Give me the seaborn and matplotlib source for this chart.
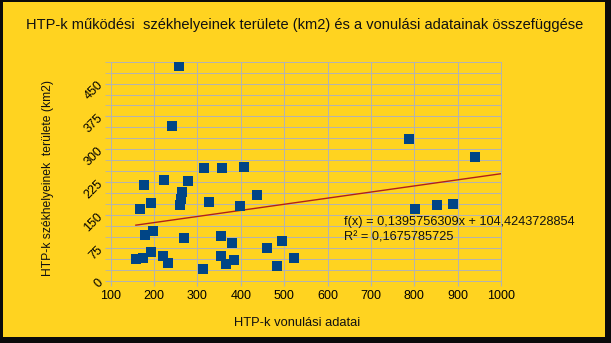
import matplotlib
matplotlib.use("Agg")
import matplotlib.pyplot as plt
from matplotlib.patches import Rectangle
import seaborn as sns
import pandas as pd

# Data
vonulas = [257, 242, 315, 357, 407, 177, 224, 278, 265, 262, 260, 168, 192,
           326, 398, 437, 197, 179, 270, 355, 379, 460, 494, 522, 484, 158,
           174, 194, 221, 231, 312, 354, 366, 384, 789, 941, 801, 853, 890]
terulet = [491, 354, 256, 258, 260, 219, 230, 228, 203, 187, 172, 163, 177,
           179, 171, 196, 114, 104, 97, 102, 85, 74, 90, 52, 33, 49,
           52, 64, 55, 41, 26, 55, 38, 47, 324, 282, 163, 172, 175]

slope = 0.1395756309
intercept = 104.4243728854
trend_x = [min(vonulas), 1000]

x_ticks = [100, 200, 300, 400, 500, 600, 700, 800, 900, 1000]
y_ticks = [0, 75, 150, 225, 300, 375, 450]

title = "HTP-k működési  székhelyeinek területe (km2) és a vonulási adatainak összefüggése"
xlabel = "HTP-k vonulási adatai"
ylabel = "HTP-k székhelyeinek  területe (km2)"
eq1 = "f(x) = 0,1395756309x + 104,4243728854"
eq2 = "R² = 0,1675785725"

YELLOW = "#FFD320"
BLUE = "#004586"
GRID = "#B3B3B3"

plt.rcParams['font.family'] = ['Liberation Sans', 'DejaVu Sans']

df = pd.DataFrame({"x": vonulas, "y": terulet})
trend = pd.DataFrame({"x": trend_x, "y": [slope * v + intercept for v in trend_x]})

W, H = 611, 343
fig = plt.figure(figsize=(W / 100, H / 100), dpi=100)
fig.patch.set_facecolor("#0b0b0b")
fig.add_artist(Rectangle((3 / W, 6 / H), 602 / W, 335 / H, transform=fig.transFigure,
                         facecolor=YELLOW, edgecolor="none", zorder=-10))

ax = fig.add_axes([110.7 / W, 1 - 280.5 / H, (501 - 110.7) / W, (280.5 - 61.7) / H])
ax.set_facecolor(YELLOW)

sns.lineplot(data=trend, x="x", y="y", ax=ax, color="#B0201A", linewidth=1.0, zorder=3)
sns.scatterplot(data=df, x="x", y="y", ax=ax, marker="s", s=52, color=BLUE,
                linewidth=0, zorder=4)

ax.set_xlim(100, 1000)
ax.set_ylim(0, 500)
ax.set_xticks(x_ticks)
ax.set_xticklabels([str(v) for v in x_ticks], fontsize=9)
ax.set_yticks(y_ticks)
ax.set_yticklabels([str(v) for v in y_ticks], fontsize=9, rotation=45,
                   ha="right", va="center", rotation_mode="anchor")
ax.set_yticks(list(range(0, 501, 25)), minor=True)

ax.grid(True, which="both", axis="y", color=GRID, linewidth=0.7, zorder=0)
ax.grid(True, which="major", axis="x", color=GRID, linewidth=0.7, zorder=0)
ax.set_axisbelow(True)
for s in ax.spines.values():
    s.set_color(GRID)
    s.set_linewidth(0.7)

ax.tick_params(axis="x", which="major", length=3.5, color=GRID, pad=3)
ax.tick_params(axis="y", which="both", length=4.5, color=GRID, pad=2.5)
ax.tick_params(axis="y", which="minor", labelleft=False)

ax.set_xlabel("")
ax.set_ylabel("")

fig.text(305 / W, 1 - 25 / H, title, ha="center", va="center", fontsize=10.5, color="#111111")
fig.text(297 / W, 1 - 323 / H, xlabel, ha="center", va="center", fontsize=9.3, color="#111111")
fig.text(48 / W, 1 - 178 / H, ylabel, ha="center", va="center", rotation=90,
         fontsize=8.7, color="#111111")
fig.text(344 / W, 1 - 222 / H, eq1, ha="left", va="center", fontsize=9.2, color="#111111")
fig.text(344 / W, 1 - 238 / H, eq2, ha="left", va="center", fontsize=9.2, color="#111111")

fig.savefig("out.png", dpi=100, facecolor=fig.get_facecolor())
